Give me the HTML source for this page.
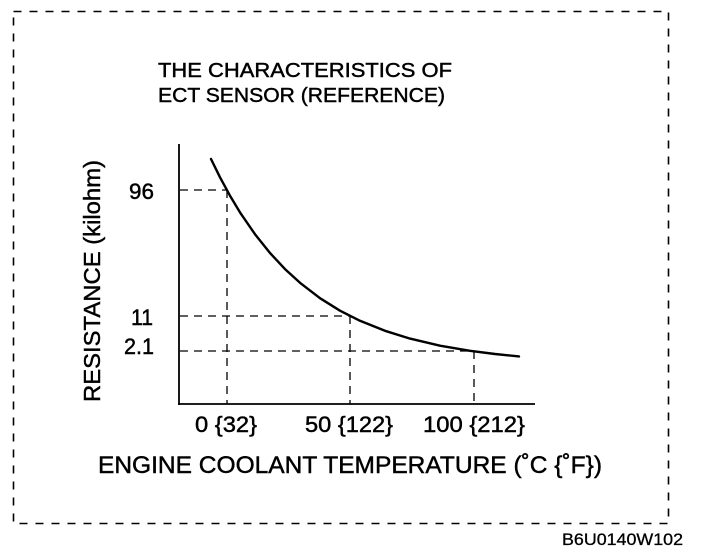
<!DOCTYPE html>
<html>
<head>
<meta charset="utf-8">
<style>
  html, body { margin: 0; padding: 0; background: #fff; }
  body { width: 704px; height: 550px; overflow: hidden; }
  svg { display: block; }
  text { font-family: "Liberation Sans", "DejaVu Sans", sans-serif; fill: #000; stroke: #000; stroke-width: 0.45; }
</style>
</head>
<body>
<svg width="704" height="550" viewBox="0 0 704 550" xmlns="http://www.w3.org/2000/svg">
  <!-- dashed outer border -->
  <rect x="13.5" y="11.5" width="655" height="512" fill="none" stroke="#000" stroke-width="1.6" stroke-dasharray="8 8"/>

  <!-- title -->
  <text x="158" y="77" font-size="20" textLength="294" lengthAdjust="spacingAndGlyphs">THE CHARACTERISTICS OF</text>
  <text x="158" y="102" font-size="20" textLength="287" lengthAdjust="spacingAndGlyphs">ECT SENSOR (REFERENCE)</text>

  <!-- axes -->
  <line x1="179" y1="144" x2="179" y2="405" stroke="#000" stroke-width="1.8"/>
  <line x1="178" y1="404" x2="535" y2="404" stroke="#000" stroke-width="1.8"/>

  <!-- dashed guide lines -->
  <g stroke="#000" stroke-width="1.3" stroke-dasharray="8 6" fill="none">
    <line x1="180" y1="190" x2="227" y2="190"/>
    <line x1="227" y1="190" x2="227" y2="404"/>
    <line x1="180" y1="316" x2="350" y2="316"/>
    <line x1="350" y1="316" x2="350" y2="404"/>
    <line x1="180" y1="351" x2="474" y2="351"/>
    <line x1="474" y1="351" x2="474" y2="404"/>
  </g>

  <!-- curve -->
  <polyline fill="none" stroke="#000" stroke-width="2.4" stroke-linejoin="round" stroke-linecap="round"
    points="211,159 220,177.3 230,195.7 240,212.4 255,234.2 270,253 285,269.1 300,282.8 320,298.2 340,310.7 360,320.8 385,330.8 410,338.6 440,345.7 470,350.8 495,354 519,356.4"/>

  <!-- y tick labels -->
  <text x="129" y="199" font-size="22" textLength="25" lengthAdjust="spacingAndGlyphs">96</text>
  <text x="131" y="325" font-size="22" textLength="22" lengthAdjust="spacingAndGlyphs">11</text>
  <text x="124" y="354" font-size="22" textLength="30" lengthAdjust="spacingAndGlyphs">2.1</text>

  <!-- x tick labels -->
  <text x="195" y="432" font-size="22" textLength="62" lengthAdjust="spacingAndGlyphs">0 {32}</text>
  <text x="305" y="432" font-size="22" textLength="88" lengthAdjust="spacingAndGlyphs">50 {122}</text>
  <text x="423" y="432" font-size="22" textLength="102" lengthAdjust="spacingAndGlyphs">100 {212}</text>

  <!-- y axis title -->
  <text transform="translate(100,402) rotate(-90)" x="0" y="0" font-size="23.5" textLength="242" lengthAdjust="spacingAndGlyphs">RESISTANCE (kilohm)</text>

  <!-- x axis title -->
  <text x="98" y="473" font-size="24" textLength="504" lengthAdjust="spacingAndGlyphs">ENGINE COOLANT TEMPERATURE (˚C {˚F})</text>

  <!-- footer code -->
  <text x="562" y="545" font-size="17" textLength="121" lengthAdjust="spacingAndGlyphs" style="stroke-width:0.3">B6U0140W102</text>
</svg>
</body>
</html>
